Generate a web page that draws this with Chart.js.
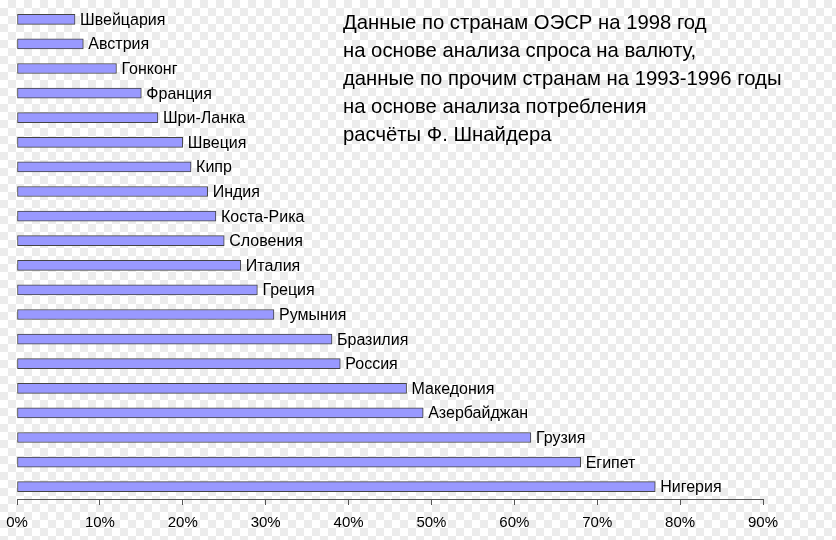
<!DOCTYPE html>
<html>
<head>
<meta charset="utf-8">
<script src="https://cdn.jsdelivr.net/npm/chart.js@4/dist/chart.umd.min.js"></script>
<style>
  html, body { margin: 0; padding: 0; }
  body {
    width: 836px; height: 540px; overflow: hidden; position: relative;
    background-color: #ffffff;
    background-image:
      linear-gradient(45deg, #ececec 25%, transparent 25%, transparent 75%, #ececec 75%),
      linear-gradient(45deg, #ececec 25%, transparent 25%, transparent 75%, #ececec 75%);
    background-size: 16px 16px;
    background-position: 0 0, 8px 8px;
  }
  #wrap { position: absolute; left: 0; top: 0; width: 836px; height: 540px; }
  #note {
    position: absolute; left: 343px; top: 8px;
    font-family: "Liberation Sans", Arial, sans-serif;
    font-size: 20.3px; line-height: 28px; color: #000; white-space: pre;
  }
</style>
</head>
<body>
<div id="wrap"><canvas id="c" width="836" height="540"></canvas></div>
<div id="note">Данные по странам ОЭСР на 1998 год
на основе анализа спроса на валюту,
данные по прочим странам на 1993-1996 годы
на основе анализа потребления
расчёты Ф. Шнайдера</div>
<script>
const categories = ["Швейцария","Австрия","Гонконг","Франция","Шри-Ланка","Швеция","Кипр","Индия","Коста-Рика","Словения","Италия","Греция","Румыния","Бразилия","Россия","Македония","Азербайджан","Грузия","Египет","Нигерия"];
const shadowShare = [7, 8, 12, 15, 17, 20, 21, 23, 24, 25, 27, 29, 31, 38, 39, 47, 49, 62, 68, 77];
const tickValues = [0, 10, 20, 30, 40, 50, 60, 70, 80, 90];

const barLabels = {
  id: 'barLabels',
  afterDatasetsDraw(chart) {
    const ctx = chart.ctx;
    const meta = chart.getDatasetMeta(0);
    ctx.save();
    ctx.font = '16px "Liberation Sans", Arial, sans-serif';
    ctx.fillStyle = '#000';
    ctx.textBaseline = 'middle';
    ctx.textAlign = 'left';
    meta.data.forEach((bar, i) => {
      ctx.fillText(categories[i], bar.x + 5, bar.y + 1);
    });
    ctx.restore();
  }
};

new Chart(document.getElementById('c'), {
  type: 'bar',
  data: {
    labels: categories,
    datasets: [{
      data: shadowShare,
      backgroundColor: '#9999ff',
      borderColor: '#444444',
      borderWidth: 1,
      borderSkipped: false,
      barThickness: 10
    }]
  },
  options: {
    indexAxis: 'y',
    responsive: false,
    animation: false,
    layout: { padding: { left: 17, right: 73, top: 7, bottom: 0 } },
    plugins: { legend: { display: false }, tooltip: { enabled: false } },
    scales: {
      y: { display: false, offset: true },
      x: {
        min: 0, max: 90,
        afterBuildTicks(axis) { axis.ticks = tickValues.map(v => ({ value: v })); },
        afterFit(scale) {
          scale.paddingLeft = 0; scale.paddingRight = 0;
          scale.paddingTop = 0; scale.paddingBottom = 0;
          scale.height = 41;
        },
        ticks: {
          callback: v => v + '%',
          color: '#000',
          font: { family: '"Liberation Sans", Arial, sans-serif', size: 15 },
          padding: 9,
          maxRotation: 0
        },
        grid: { drawOnChartArea: false, drawTicks: true, tickLength: 6, color: '#555' },
        border: { display: true, color: '#555', width: 1 }
      }
    }
  },
  plugins: [barLabels]
});
</script>
</body>
</html>
